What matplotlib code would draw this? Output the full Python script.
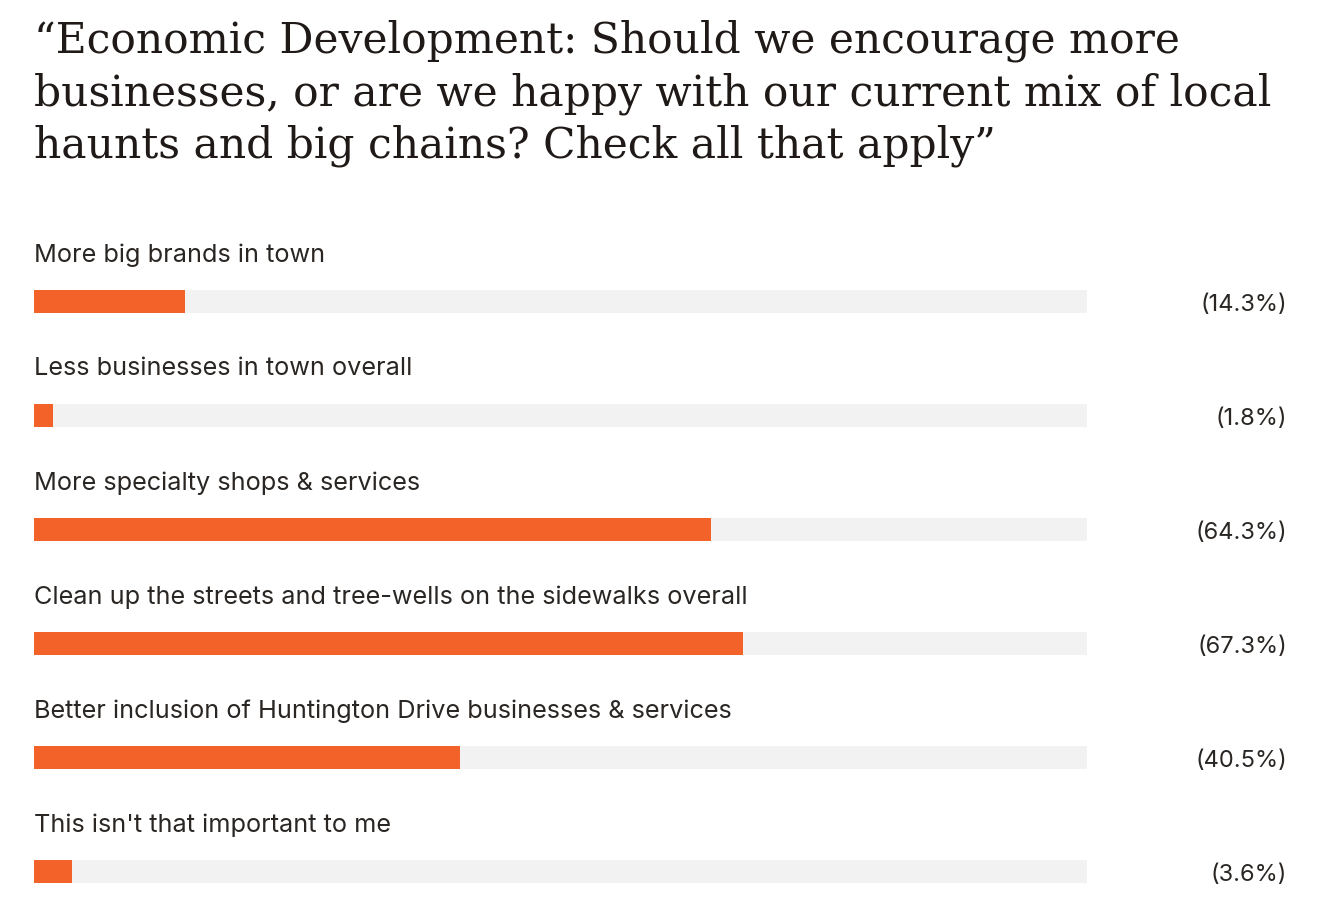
# %% Libraries
import matplotlib
matplotlib.use("Agg")
import matplotlib.pyplot as plt

# %% Data
title = ("\u201cEconomic Development: Should we encourage more\n"
         "businesses, or are we happy with our current mix of local\n"
         "haunts and big chains? Check all that apply\u201d")
categories = [
    "More big brands in town",
    "Less businesses in town overall",
    "More specialty shops & services",
    "Clean up the streets and tree-wells on the sidewalks overall",
    "Better inclusion of Huntington Drive businesses & services",
    "This isn't that important to me",
]
values = [14.3, 1.8, 64.3, 67.3, 40.5, 3.6]

# %% Figure
W, H = 1338, 920
fig = plt.figure(figsize=(W / 100, H / 100), dpi=100)
ax = fig.add_axes([0, 0, 1, 1])
ax.set_xlim(0, W)
ax.set_ylim(H, 0)
ax.axis("off")

# --+ layout (pixels)
left, track = 34, 1053
first_bar, step, bar_h = 302, 114, 23

# --+ title
ax.text(34, 20, title, fontsize=30.5, family=["DejaVu Serif"], color="#1f1a17",
        va="top", ha="left", linespacing=1.3)

# --+ bars
for i, (cat, val) in enumerate(zip(categories, values)):
    y = first_bar + i * step
    ax.barh(y, track, left=left, height=bar_h, color="#f2f2f2", linewidth=0)
    ax.barh(y, val / 100 * track, left=left, height=bar_h, color="#f26229", linewidth=0)
    ax.text(left, y - 47, cat, fontsize=18.2, family=["Inter", "DejaVu Sans"],
            color="#2a2623", va="center", ha="left")
    ax.text(1287, y + 3, "({:.1f}%)".format(val), fontsize=17,
            family=["Inter", "DejaVu Sans"], color="#2a2623", va="center", ha="right")

fig.savefig("out.png", dpi=100, facecolor="white")
